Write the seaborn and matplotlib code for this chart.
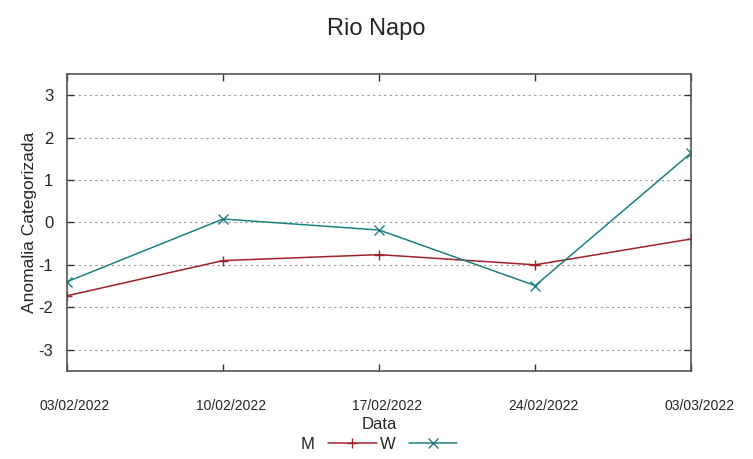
# Rio Napo - anomalia categorizada por data

import pandas as pd
import seaborn as sns
import matplotlib.pyplot as plt
import matplotlib.transforms as mtransforms

datas = ["03/02/2022", "10/02/2022", "17/02/2022", "24/02/2022", "03/03/2022"]
serie_m = [-1.73, -0.90, -0.76, -1.00, -0.39]
serie_w = [-1.40, 0.08, -0.18, -1.49, 1.64]

df = pd.DataFrame({
    "Data": datas * 2,
    "valor": serie_m + serie_w,
    "serie": ["M"] * len(datas) + ["W"] * len(datas),
})

sns.set_style("white")
plt.rcParams["font.family"] = ["Liberation Sans", "DejaVu Sans"]
plt.rcParams["axes.unicode_minus"] = False

fig = plt.figure(figsize=(7.53, 4.59), dpi=100)
ax = fig.add_axes([0.089, 0.192, 0.829, 0.647])

cores = {"M": "#a0222a", "W": "#1f8080"}
sns.lineplot(data=df, x="Data", y="valor", hue="serie", style="serie",
             markers={"M": "+", "W": "x"}, dashes=False, palette=cores,
             markersize=6.5, linewidth=1.1, sort=False, ax=ax)

# marcadores com a cor da linha
for ln in ax.lines:
    ln.set_markeredgecolor(ln.get_color())
    ln.set_markeredgewidth(1)

ax.set_xlim(0, len(datas) - 1)
ax.set_ylim(-3.5, 3.5)
ax.set_yticks([-3, -2, -1, 0, 1, 2, 3])
ax.yaxis.grid(True, linestyle=(0, (2, 3)), color="#999999", linewidth=0.8)
ax.xaxis.grid(False)

for s in ax.spines.values():
    s.set_color("#555555")
    s.set_linewidth(1.2)
    s.set_visible(True)

ax.tick_params(axis="both", direction="in", length=5, width=1, color="#333333",
               top=True, right=True, left=True, bottom=True)
ax.tick_params(axis="x", labelsize=10, pad=20)
ax.tick_params(axis="y", labelsize=12, pad=10)

# rotulos do eixo x um pouco deslocados para a direita
desloc = mtransforms.ScaledTranslation(8 / 100, 0, fig.dpi_scale_trans)
for lbl in ax.get_xticklabels():
    lbl.set_transform(lbl.get_transform() + desloc)

ax.set_xlabel("Data", fontsize=12, labelpad=3)
ax.set_ylabel("Anomalia Categorizada", fontsize=12.5, labelpad=1)
fig.suptitle("Rio Napo", fontsize=17, y=0.96)

leg = ax.legend(loc="upper center", bbox_to_anchor=(0.5, -0.2), ncol=2, frameon=False,
                markerfirst=False, fontsize=12, handlelength=2.9, columnspacing=0.2,
                handletextpad=0.8, borderaxespad=0)
for h in leg.get_lines():
    h.set_markeredgecolor(h.get_color())

plt.savefig("out.png", dpi=100)
